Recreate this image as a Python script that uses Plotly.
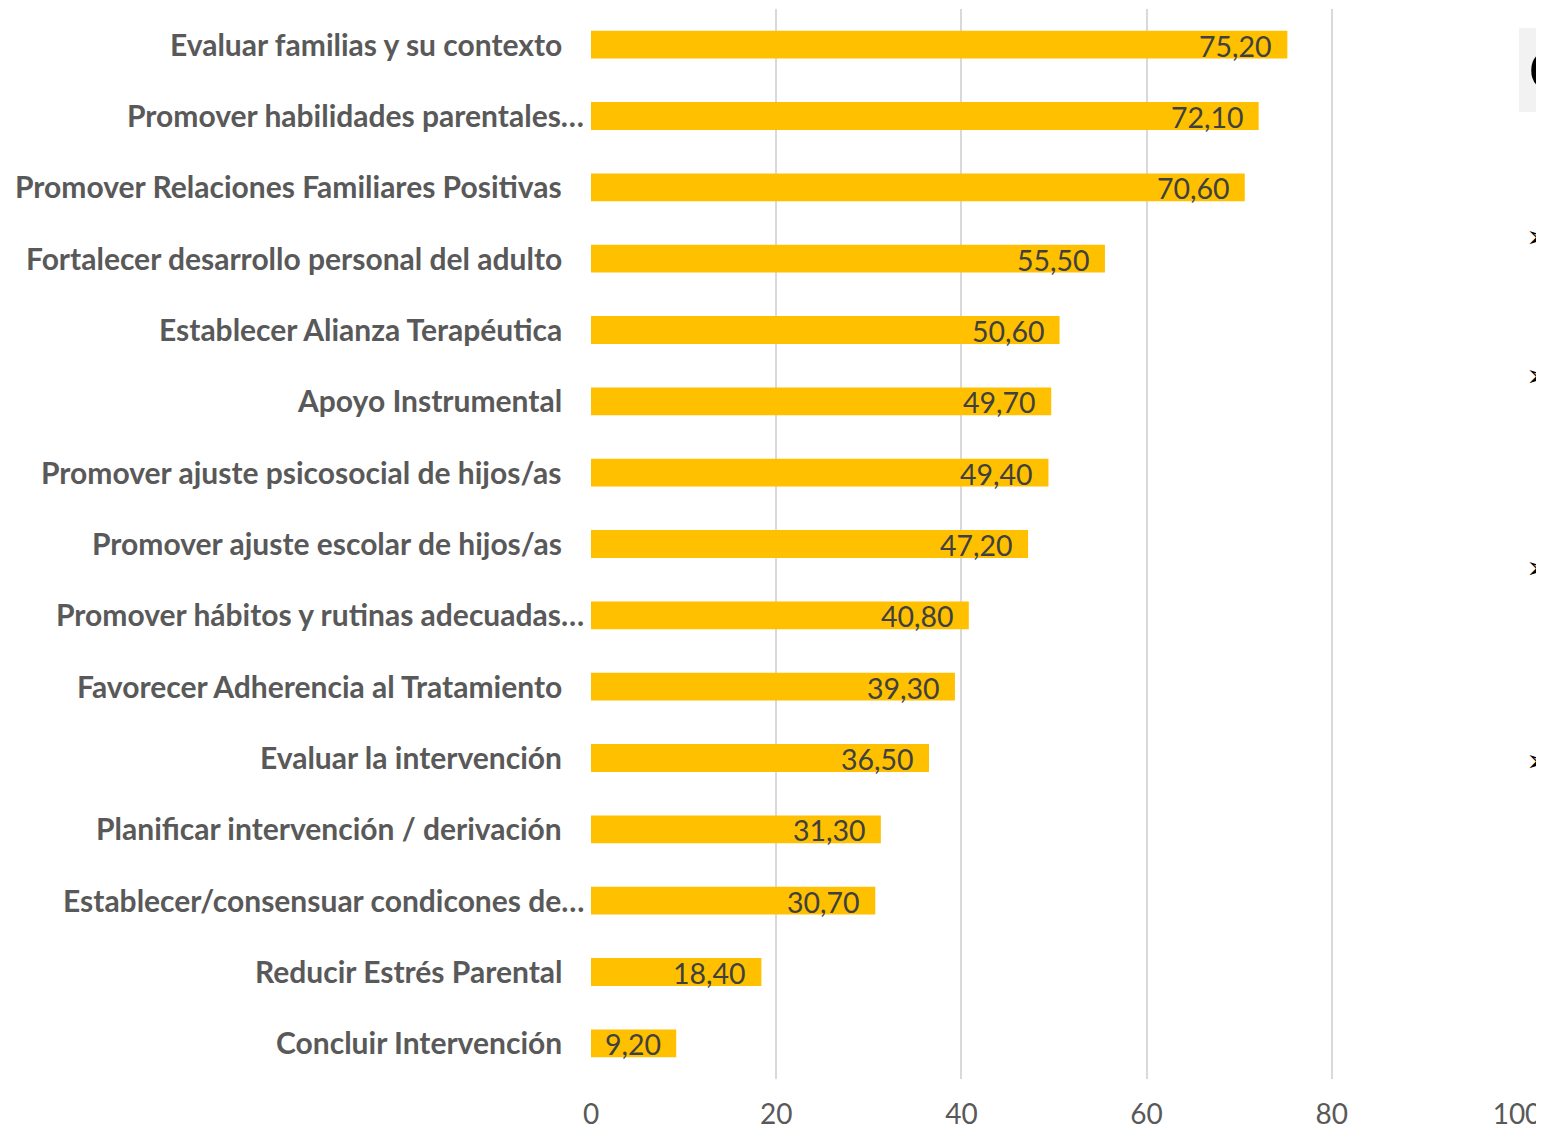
import plotly.graph_objects as go

categories = [
    "Evaluar familias y su contexto",
    "Promover habilidades parentales…",
    "Promover Relaciones Familiares Positivas",
    "Fortalecer desarrollo personal del adulto",
    "Establecer Alianza Terapéutica",
    "Apoyo Instrumental",
    "Promover ajuste psicosocial de hijos/as",
    "Promover ajuste escolar de hijos/as",
    "Promover hábitos y rutinas adecuadas…",
    "Favorecer Adherencia al Tratamiento",
    "Evaluar la intervención",
    "Planificar intervención / derivación",
    "Establecer/consensuar condicones de…",
    "Reducir Estrés Parental",
    "Concluir Intervención",
]
values = [75.2, 72.1, 70.6, 55.5, 50.6, 49.7, 49.4, 47.2, 40.8, 39.3, 36.5, 31.3, 30.7, 18.4, 9.2]
tick_vals = [0, 20, 40, 60, 80, 100]

# page body has an 8px margin; figure coords = page coords - 8
OFF = 8
W, H = 1536, 1118
ML, MT = 591 - OFF, 9 - OFF
PR, PB = 1517 - OFF, 1079 - OFF
MR, MB = W - PR, H - PB
PW, PH = PR - ML, PB - MT


def px(xp):
    return (xp - OFF - ML) / PW


def py(yp):
    return 1 - (yp - OFF - MT) / PH


fig = go.Figure()
fig.add_trace(go.Bar(
    x=values, y=categories, orientation="h",
    marker=dict(color="#FFC000", line=dict(width=0)),
    width=0.39, hoverinfo="skip",
))

annotations = []
for c, v in zip(categories, values):
    annotations.append(dict(
        x=v, y=c, xref="x", yref="y", text=f"{v:.2f}".replace(".", ","),
        showarrow=False, xanchor="right", yanchor="middle", xshift=-13, yshift=-1,
        font=dict(family="Lato", size=28.5, color="#404040"),
    ))
    trunc = c.endswith("…")
    annotations.append(dict(
        x=0, y=c, xref="x", yref="y", text=f"<b>{c}</b>",
        showarrow=False, xanchor="right", yanchor="middle",
        xshift=-5 if trunc else -27, yshift=1,
        font=dict(family="Lato", size=30, color="#595959"),
    ))

# partial elements of an overlapping slide at the right edge
for yy in [236, 375, 567, 760]:
    annotations.append(dict(
        x=px(1524), y=py(yy), xref="paper", yref="paper", text="➢", showarrow=False,
        xanchor="left", yanchor="middle",
        font=dict(family="DejaVu Sans", size=30, color="#000000"),
    ))
annotations.append(dict(
    x=px(1527), y=py(70), xref="paper", yref="paper", text="<b>C</b>", showarrow=False,
    xanchor="left", yanchor="middle",
    font=dict(family="Liberation Sans", size=54, color="#000000"),
))

fig.add_shape(type="rect", xref="paper", yref="paper",
              x0=px(1519), x1=px(1560), y0=py(112), y1=py(28),
              fillcolor="#F2F2F2", line=dict(width=0), layer="below")

fig.update_layout(
    width=W, height=H,
    margin=dict(l=ML, r=MR, t=MT, b=MB, autoexpand=False),
    plot_bgcolor="white", paper_bgcolor="white",
    showlegend=False,
    annotations=annotations,
)
fig.update_xaxes(
    range=[0, 100], tickvals=tick_vals, ticktext=[str(t) for t in tick_vals],
    showgrid=True, gridcolor="#D9D9D9", gridwidth=2,
    zeroline=False, showline=False, ticks="",
    tickfont=dict(family="Lato", size=28, color="#595959"),
    ticklabelstandoff=16, automargin=False,
    fixedrange=True,
)
fig.update_yaxes(
    categoryorder="array", categoryarray=categories, autorange="reversed",
    showticklabels=False, showgrid=False, zeroline=False, showline=False, ticks="",
    automargin=False, fixedrange=True,
)
fig.write_html("out.html")
